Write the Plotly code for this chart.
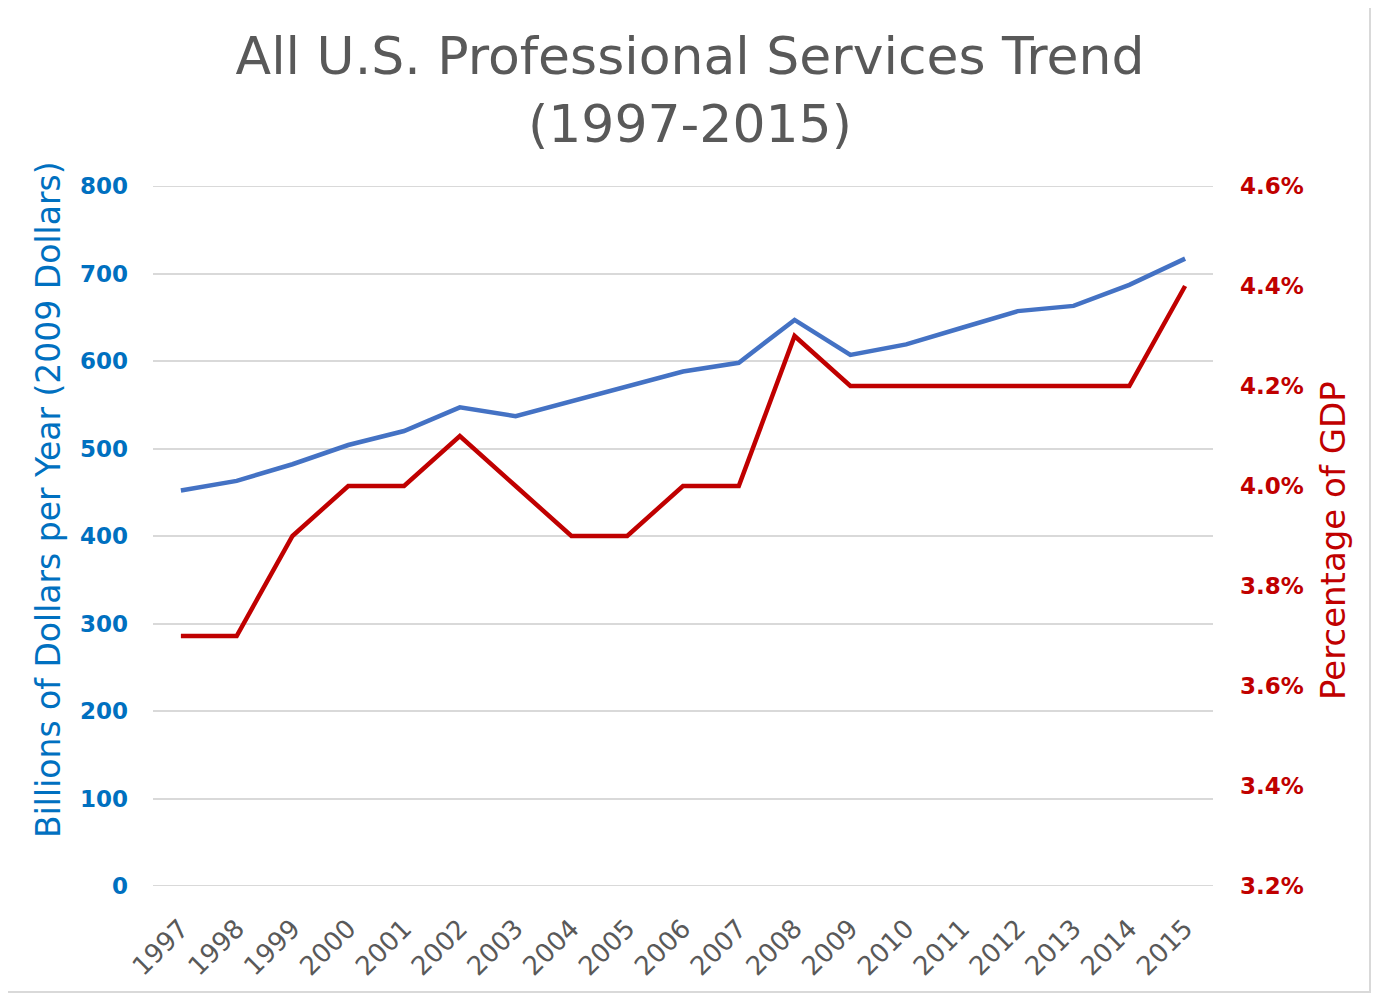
import plotly.graph_objects as go

years = [str(y) for y in range(1997, 2016)]
billions = [452, 463, 482, 504, 520, 547, 537, 554, 570, 588, 598, 647, 607, 619, 638, 657, 663, 687, 717]
pct_gdp = [3.7, 3.7, 3.9, 4.0, 4.0, 4.1, 4.0, 3.9, 3.9, 4.0, 4.0, 4.3, 4.2, 4.2, 4.2, 4.2, 4.2, 4.2, 4.4]

left_ticks = list(range(0, 900, 100))
right_ticks = [3.2, 3.4, 3.6, 3.8, 4.0, 4.2, 4.4, 4.6]
right_labels = [f"{v:.1f}%" for v in right_ticks]

# page is rendered with an 8px body margin; compensate
OFF = 8
W, H = 1380 - 2 * OFF, 1002 - 2 * OFF
L, T = 153 - OFF, 186 - OFF
R = W - (1213 - OFF)
B = H - (886 - OFF)
pw, ph = W - L - R, H - T - B

FONT = "DejaVu Sans"
BLUE = "#4472C4"
RED = "#C00000"
LBLUE = "#0070C0"
GRAY = "#595959"
GRID = "#D9D9D9"


def px(xpage):
    return (xpage - OFF - L) / pw


def py(ypage):
    return (H - B - (ypage - OFF)) / ph


fig = go.Figure()
fig.add_trace(go.Scatter(x=years, y=billions, mode="lines", name="Billions",
                         line=dict(color=BLUE, width=4.5), yaxis="y"))
fig.add_trace(go.Scatter(x=years, y=pct_gdp, mode="lines", name="% GDP",
                         line=dict(color=RED, width=4.5), yaxis="y2"))

# gridlines at the range edges (plotly hides those)
edge_lines = [dict(type="line", xref="paper", yref="y", x0=0, x1=1, y0=v, y1=v,
                   line=dict(color=GRID, width=2), layer="below")
              for v in (left_ticks[0], left_ticks[-1])]

fig.update_layout(
    width=W, height=H,
    margin=dict(l=L, r=R, t=T, b=B),
    paper_bgcolor="white", plot_bgcolor="white",
    showlegend=False,
    font=dict(family=FONT, color=GRAY),
    title=dict(text="All U.S. Professional Services Trend<br>(1997-2015)",
               x=(690 - OFF) / W, xanchor="center", xref="container",
               y=1 - (74 - OFF) / H, yanchor="middle", yref="container",
               font=dict(family=FONT, size=52, color=GRAY)),
    xaxis=dict(type="category", tickangle=-45, range=[-0.5, 18.5],
               showgrid=False, showline=False, ticks="", zeroline=False,
               ticklabelstandoff=21,
               tickfont=dict(family=FONT, size=26, color=GRAY)),
    yaxis=dict(range=[0, 800], tickvals=left_ticks, showgrid=True,
               gridcolor=GRID, gridwidth=1.5, zeroline=False,
               ticks="", ticklabelstandoff=24,
               tickfont=dict(family=FONT, size=23, color=LBLUE, weight="bold")),
    yaxis2=dict(range=[3.2, 4.6], tickvals=right_ticks, ticktext=right_labels,
                overlaying="y", side="right",
                showgrid=False, zeroline=False, ticks="", ticklabelstandoff=26,
                tickfont=dict(family=FONT, size=23, color=RED, weight="bold")),
    annotations=[
        dict(text="Billions of Dollars per Year (2009 Dollars)", textangle=-90,
             xref="paper", yref="paper", x=px(48), y=py(500),
             xanchor="center", yanchor="middle", showarrow=False,
             font=dict(family=FONT, size=33, color=LBLUE)),
        dict(text="Percentage of GDP", textangle=-90,
             xref="paper", yref="paper", x=px(1333), y=py(541),
             xanchor="center", yanchor="middle", showarrow=False,
             font=dict(family=FONT, size=34, color=RED)),
    ],
    shapes=edge_lines + [dict(type="rect", xref="paper", yref="paper",
                 x0=px(2), x1=px(1370), y0=py(992), y1=py(1),
                 line=dict(color=GRID, width=2), fillcolor="rgba(0,0,0,0)",
                 layer="below")],
)

fig.write_html("out.html")
